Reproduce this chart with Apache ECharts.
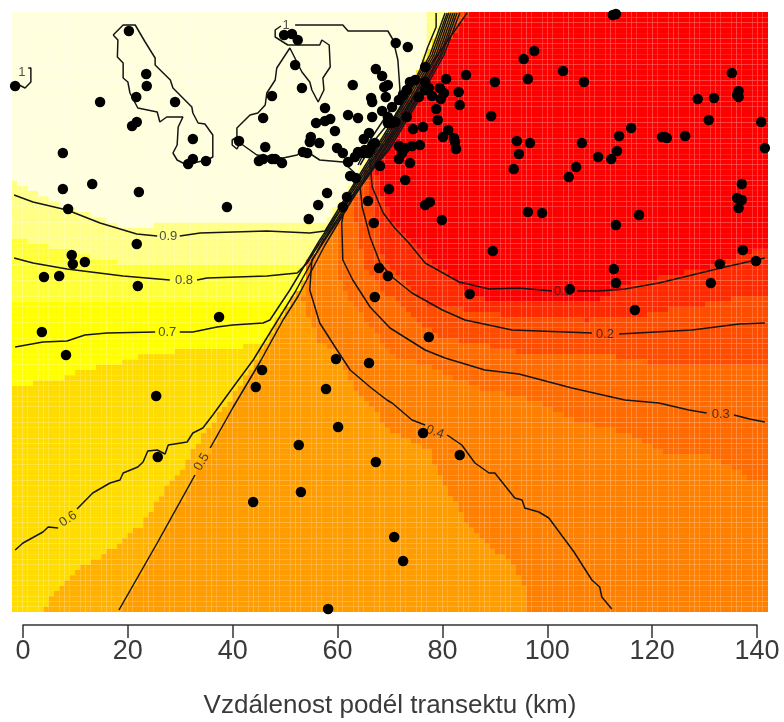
<!DOCTYPE html>
<html><head><meta charset="utf-8">
<style>html,body{margin:0;padding:0;background:#fff}#c{width:784px;height:722px}</style>
<script src="https://cdn.jsdelivr.net/npm/echarts@6/dist/echarts.min.js"></script>
</head><body><div id="c"></div>
<script>
// --- axis ---
const xTicks = [0,20,40,60,80,100,120,140];
const xTitle = 'Vzdálenost podél transektu (km)';
const X0=-2.1, X1=142.1, Y0=0, Y1=600, COLS=144, ROWS=114;

// --- sampling sites [km along transect, across-transect position] ---
const sites = [[20.2,581],[23.5,538],[23.6,526],[21.6,515],[14.7,510],[29.0,510],[21.7,490],[20.8,486],[32.4,473],[32.4,453],[31.5,448],[34.9,451],[7.6,459],[7.6,423],[13.2,428],[8.6,403],[22.1,420],[38.9,405],[-1.5,526],[49.8,577],[51.3,578],[52.4,572],[51.9,547],[53.2,524],[47.5,516],[45.8,494],[41.2,471],[46.2,465],[45.0,451],[45.8,453],[47.5,453],[48.1,453],[49.4,449],[53.4,460],[54.2,459],[54.9,475],[54.7,470],[56.5,469],[55.9,489],[57.6,491],[58.6,493],[57.6,504],[59.5,481],[59.9,464],[61.0,459],[62.0,450],[62.0,497],[63.9,494],[66.6,495],[62.9,527],[66.4,514],[66.6,510],[67.3,543],[68.5,536],[68.9,525],[69.6,527],[69.2,515],[68.5,501],[69.6,495],[66.0,479],[65.0,473],[63.9,460],[63.3,455],[65.2,462],[66.7,467],[65.8,459],[62.4,436],[63.5,434],[58.0,419],[56.3,407],[54.5,393],[61.8,415],[61.0,405],[68.1,446],[69.8,423],[65.8,411],[66.9,389],[67.9,344],[69.6,336],[67.1,315],[21.7,368],[9.3,357],[9.5,348],[11.8,350],[4.0,335],[6.9,336],[21.9,326],[37.4,295],
[113.1,598],[112.5,597],[97.5,561],[95.5,553],[103.0,541],[107.0,530],[96.3,533],[90.0,530],[84.5,537],[80.7,533],[71.1,569],[73.4,565],[76.7,530],[77.4,524],[76.7,522],[79.5,524],[80.3,519],[79.7,513],[78.0,516],[75.5,515],[83.1,520],[83.3,507],[78.8,503],[89.3,496],[79.1,492],[73.2,495],[76.3,485],[74.4,483],[81.1,482],[80.1,475],[82.2,474],[82.4,470],[82.6,463],[75.7,467],[74.2,466],[72.9,464],[71.7,466],[72.3,459],[71.7,453],[73.8,449],[72.9,432],[77.6,410],[76.7,407],[79.9,392],[94.2,471],[96.7,469],[94.6,458],[93.6,443],[106.6,469],[105.5,445],[104.1,435],[109.7,455],[112.2,453],[113.3,461],[113.7,476],[116.0,484],[122.4,475],[121.9,475],[122.8,474],[126.3,476],[130.8,492],[128.7,513],[131.8,514],[135.2,539],[136.5,521],[136.5,515],[136.2,517],[140.8,490],[141.5,464],[137.1,428],[136.2,414],[137.1,412],[136.5,404],[96.3,400],[99.0,399],[117.5,397],[113.1,387],[89.6,361],[137.3,362],[139.8,351],[132.9,348],[112.7,343],[113.1,329],[131.2,329],[104.3,323],[85.2,318],[116.7,302],
[77.4,275],[59.7,253],[66.0,249],[57.8,223],[3.6,280],[8.2,257],[45.6,242],[44.4,225],[25.4,216],[25.7,155],[60.1,185],[52.6,167],[53.0,120],[43.9,110],[67.3,150],[58.2,3],[70.8,75],[72.5,51],[76.3,179],[83.3,157],
[76.7,545],[74.8,532],[73.2,522],[71.7,512],[70.4,505],[70.4,489],[71.0,490],[69.6,489],[66.2,462],[64.8,459],[67.1,469],[73.8,530],[72.5,517]];

// --- contour lines, each level as its segments between label gaps ---
const contour09 = [[[-1.7,417],[1.9,410],[8.4,402],[14.7,389],[21.7,378],[25.6,376]],[[29.9,376],[33.8,379],[46.5,381],[54.7,379],[57.6,381],[62.4,422],[67.1,462],[72.9,512],[77.6,557],[80.5,599]]];
const contour08 = [[[-1.7,354],[1.9,349],[8.4,343],[19.1,336],[28.0,332]],[[33.2,332],[35.1,334],[46.5,336],[52.3,339],[54.2,349],[56.6,369],[59.1,389],[62.7,422],[67.5,462],[73.2,512],[78.0,557],[80.9,599]]];
const contour07 = [[[-1.5,265],[3.8,270],[8.4,271],[11.8,277],[16.0,279],[25.2,280]],[[29.9,280],[32.4,280],[37.0,285],[40.0,287],[45.8,289],[47.1,292],[50.9,322],[56.6,372],[63.3,424],[67.9,462],[73.6,512],[78.4,557],[81.2,599]]];
const contour06 = [[[-1.5,62],[0,69],[3.8,80],[4.8,85],[6.7,84]],[[10.3,103],[13.3,119],[16.6,129],[18.5,132],[19.1,139],[21.9,145],[22.9,150],[23.8,161],[25.6,162],[27.1,158],[27.7,167],[31.3,170],[32.4,179],[34.3,184],[36.2,197],[40.1,225],[43.9,252],[48.6,292],[51.9,320],[57.0,369],[63.7,424],[68.3,462],[74.0,512],[78.8,557],[81.6,599]]];
const contour05 = [[[18.3,2],[25.6,69],[32.8,137]],[[35.7,164],[40.1,205],[45.2,250],[49.6,292],[52.5,316],[57.6,367],[64.1,424],[68.7,462],[74.4,512],[79.2,557],[82.0,599]]];
const contour04 = [[[112.3,3],[110.4,15],[110.0,25],[108.5,32],[105.1,60],[100.3,94],[98.4,100],[95.7,104],[95.2,112],[93.8,114],[90.0,139],[88.9,139],[86.2,149],[83.7,167],[80.9,177]],[[76.7,187],[74.2,192],[70.4,209],[69.4,212],[66.2,225],[62.4,242],[59.9,262],[56.6,289],[54.7,322],[55.1,352],[58.2,377],[64.5,426],[69.0,462],[74.8,512],[79.6,557],[82.4,599]]];
const contour03 = [[[141.5,190],[138.6,193],[135.6,197]],[[130.4,199],[127.0,202],[121.3,209],[114.8,212],[104.7,224],[94.6,238],[88.1,242],[80.5,254],[76.7,262],[70.0,284],[66.2,305],[62.9,332],[61.0,352],[60.8,389],[61.4,407],[64.9,429],[69.4,462],[75.1,512],[79.9,557],[82.8,599]]];
const contour02 = [[[141.5,289],[136.6,288],[127.6,282],[113.7,278]],[[108.5,279],[93.3,282],[84.3,292],[80.0,302],[74.2,319],[70.4,335],[68.1,349],[66.2,375],[64.7,405],[64.3,425],[65.2,434],[69.8,462],[75.5,512],[80.3,557],[83.3,599]]];
const contour01 = [[[141.5,354],[133.9,345],[127.6,337],[121.3,329],[114.8,323],[109.9,321],[105.7,321]],[[100.9,321],[94.6,324],[88.9,323],[83.2,330],[76.7,349],[73.6,369],[70.9,384],[68.7,399],[66.6,425],[66.2,449],[71.0,482],[78.0,549],[84.7,599]]];
const contour1 = [
 [[17.2,577],[19.1,587],[21.4,587],[23.3,570],[25.2,554],[25.2,547],[28.1,532],[28.6,524],[32.2,505],[32.4,499],[33.4,489],[34.7,488],[36.2,477],[36.2,455],[35.1,452],[32.4,449],[30.5,449],[29.4,452],[28.6,459],[29.4,467],[29.6,485],[30.5,495],[27.4,495],[26.1,490],[25.6,500],[21.9,504],[20.4,519],[20.0,530],[19.1,534],[19.1,549],[18.0,555],[18.1,572],[17.2,577]],
 [[49.2,586],[48.1,582],[48.1,575],[50.5,567],[56.6,567],[57.0,572],[58.4,567],[58.6,545],[57.2,534],[57.4,522],[56.3,510],[55.1,522],[54.7,530],[53.2,540],[50.9,564],[48.4,544],[48.1,532],[46.5,519],[46.2,507],[44.8,499],[43.3,497],[40.8,484],[40.8,475],[39.9,472],[39.9,467],[40.8,463],[41.4,469],[44.6,457],[49.6,454],[52.3,457],[53.4,463],[56.6,452],[61.0,450],[63.3,439]],
 [[51.9,587],[61.0,587],[62.0,581],[69.6,581],[70.6,572],[71.5,552],[71.9,522],[71.3,512],[69.0,494],[66.2,472],[63.9,447]],
 [[78.8,599],[78.8,585],[77.2,565],[75.7,542],[73.8,522],[71.0,497],[67.1,472],[64.3,447]],
 [[1.0,544],[1.5,544],[1.5,530],[0.4,524],[-1.5,529]]];
const contourSets = [contour01,contour02,contour03,contour04,contour05,contour06,contour07,contour08,contour09,contour1];

// --- inline contour labels [text, km, position, rotation] ---
const contourLabels = [['0.1',103.0,321,0],['0.2',111.0,278,0],['0.3',133.1,198,0],['0.4',78.6,180,-20],['0.5',34.1,150,60],['0.6',8.6,93,35],['0.7',27.5,280,0],['0.8',30.7,332,0],['0.9',27.7,376,0],['1',50.2,587,0],['1',-0.2,540,0]];

// --- colour bands, painted in order over each other ---
const bandBase = '#FFFFDD';
const bandColors = ['#FFFF85','#FFFF38','#FFFF00','#FFDC00','#FFB000','#FF9C00','#FF8000','#FF6B00','#FF4D00','#FF2A00','#FF0000'];
const band1 = [[-2.1,431],[1.9,420],[8.4,405],[14.7,395],[18.5,385],[41.4,392],[58.0,392],[60.5,412],[70.0,492],[75.7,542],[77.2,567],[77.2,600],[142.1,600],[142.1,0],[-2.1,0]];
const band2 = [[-2.1,377],[1.9,369],[11.4,357],[17.9,350],[54.4,350],[61.4,412],[71.0,492],[76.7,542],[81.1,600],[142.1,600],[142.1,0],[-2.1,0]];
const band3 = [[-2.1,310],[50.9,310],[61.4,412],[71.0,492],[76.7,542],[81.1,600],[142.1,600],[142.1,0],[-2.1,0]];
const band4 = [[-2.1,224],[1.9,229],[8.4,235],[10.3,240],[14.3,245],[18.5,250],[22.7,257],[30.9,262],[45.8,267],[48.0,290],[52.8,322],[61.4,412],[71.0,492],[81.1,600],[142.1,600],[142.1,0],[-2.1,0]];
const band5 = [[4.2,0],[5.1,15],[8.4,32],[10.3,44],[14.7,55],[17.5,65],[19.8,77],[22.7,87],[24.8,104],[26.7,120],[30.0,140],[31.3,152],[35.1,182],[39.5,212],[45.2,259],[49.0,292],[52.5,322],[62.0,412],[71.5,492],[77.3,542],[81.4,600],[142.1,600],[142.1,0]];
const band6 = [[18.3,0],[25.6,67],[32.8,135],[40.1,205],[49.6,292],[57.6,367],[82.4,600],[142.1,600],[142.1,0]];
const band7 = [[95.7,0],[95.7,22],[93.8,45],[89.4,65],[84.3,92],[79.9,132],[77.4,162],[70.4,180],[62.9,225],[59.9,262],[56.6,269],[53.4,309],[53.8,352],[55.1,357],[64.3,427],[83.0,600],[142.1,600],[142.1,0]];
const band8 = [[142.1,132],[139.0,132],[132.0,155],[122.4,159],[114.8,179],[104.7,192],[97.1,212],[87.0,224],[76.7,247],[70.4,257],[66.7,282],[62.9,309],[59.9,339],[59.9,352],[60.5,392],[63.7,427],[83.3,600],[142.1,600]];
const band9 = [[142.1,247],[122.4,247],[108.5,259],[95.7,259],[79.3,275],[75.1,292],[68.7,322],[64.9,345],[64.9,352],[63.0,402],[64.3,432],[83.7,600],[142.1,600]];
const band10 = [[142.1,317],[139.0,317],[133.9,312],[129.7,307],[122.4,302],[117.7,295],[107.2,292],[96.7,294],[91.0,297],[85.3,302],[78.0,305],[74.2,325],[70.4,345],[68.7,352],[67.5,387],[65.8,427],[65.2,442],[84.5,600],[142.1,600]];
const band11 = [[142.1,364],[141.5,364],[137.7,359],[131.4,345],[121.3,335],[114.8,327],[108.1,309],[98.6,309],[88.9,312],[85.6,319],[81.8,335],[77.4,352],[73.6,375],[70.4,389],[68.7,415],[66.6,449],[84.9,600],[142.1,600]];
const bands = [band1,band2,band3,band4,band5,band6,band7,band8,band9,band10,band11];

function inside(poly,x,y){let c=false;for(let i=0,j=poly.length-1;i<poly.length;j=i++){const a=poly[i],b=poly[j];if((a[1]>y)!==(b[1]>y)&&x<(b[0]-a[0])*(y-a[1])/(b[1]-a[1])+a[0])c=!c;}return c;}
const dx=(X1-X0)/COLS, dy=(Y1-Y0)/ROWS;
const cells=[];
for(let i=0;i<COLS;i++)for(let j=0;j<ROWS;j++){
  const x=X0+i*dx,y=Y0+j*dy;let lv=0;
  bands.forEach((p,k)=>{if(inside(p,x+dx/2,y+dy/2))lv=k+1;});
  cells.push([x,y,lv]);
}
const palette=[bandBase].concat(bandColors);

const lineSeries=[];
contourSets.forEach(set=>set.forEach(seg=>lineSeries.push({type:'line',data:seg,xAxisIndex:0,yAxisIndex:0,symbol:'none',smooth:false,silent:true,z:3,animation:false,lineStyle:{color:'#151515',width:1.5}})));

const font='"Liberation Sans", Arial, sans-serif';
const chart=echarts.init(document.getElementById('c'),null,{renderer:'canvas'});
chart.setOption({
  animation:false,backgroundColor:'#fff',
  grid:[{left:12,width:756,top:8,height:608},{left:23,width:734,top:600,height:25}],
  xAxis:[
    {gridIndex:0,type:'value',min:X0,max:X1,show:false},
    {gridIndex:1,type:'value',min:0,max:140,interval:20,position:'bottom',
     splitLine:{show:false},
     axisLine:{show:true,onZero:false,lineStyle:{color:'#333',width:1.5}},
     axisTick:{show:true,length:13,lineStyle:{color:'#333',width:1.5}},
     axisLabel:{margin:13,fontSize:27,color:'#3a3a3a',fontFamily:font,formatter:v=>xTicks.includes(v)?String(v):''},
     name:xTitle,nameLocation:'middle',nameGap:68,
     nameTextStyle:{fontSize:26,color:'#3a3a3a',fontFamily:font}}
  ],
  yAxis:[
    {gridIndex:0,type:'value',min:-4,max:604,show:false},
    {gridIndex:1,type:'value',min:0,max:1,show:false}
  ],
  series:[
    {type:'custom',xAxisIndex:0,yAxisIndex:0,silent:true,z:1,progressive:0,clip:true,animation:false,
     data:cells,dimensions:['x','y','level'],encode:{x:0,y:1},
     renderItem:(p,api)=>{
       const a=api.coord([api.value(0),api.value(1)+dy]),b=api.coord([api.value(0)+dx,api.value(1)]);
       return {type:'rect',shape:{x:a[0],y:a[1],width:b[0]-a[0],height:b[1]-a[1]},style:{fill:palette[api.value(2)]}};
     }},
    ...lineSeries,
    {type:'scatter',xAxisIndex:0,yAxisIndex:0,silent:true,z:4,symbolSize:1,itemStyle:{color:'rgba(0,0,0,0)'},
     data:contourLabels.map(l=>({name:l[0],value:[l[1],l[2]],label:{rotate:l[3]}})),
     label:{show:true,position:'inside',formatter:'{b}',fontSize:13,color:'#222',fontFamily:font}},
    {type:'scatter',xAxisIndex:0,yAxisIndex:0,silent:true,z:5,symbol:'circle',symbolSize:10.5,itemStyle:{color:'#000',opacity:1},data:sites}
  ]
});
</script></body></html>
